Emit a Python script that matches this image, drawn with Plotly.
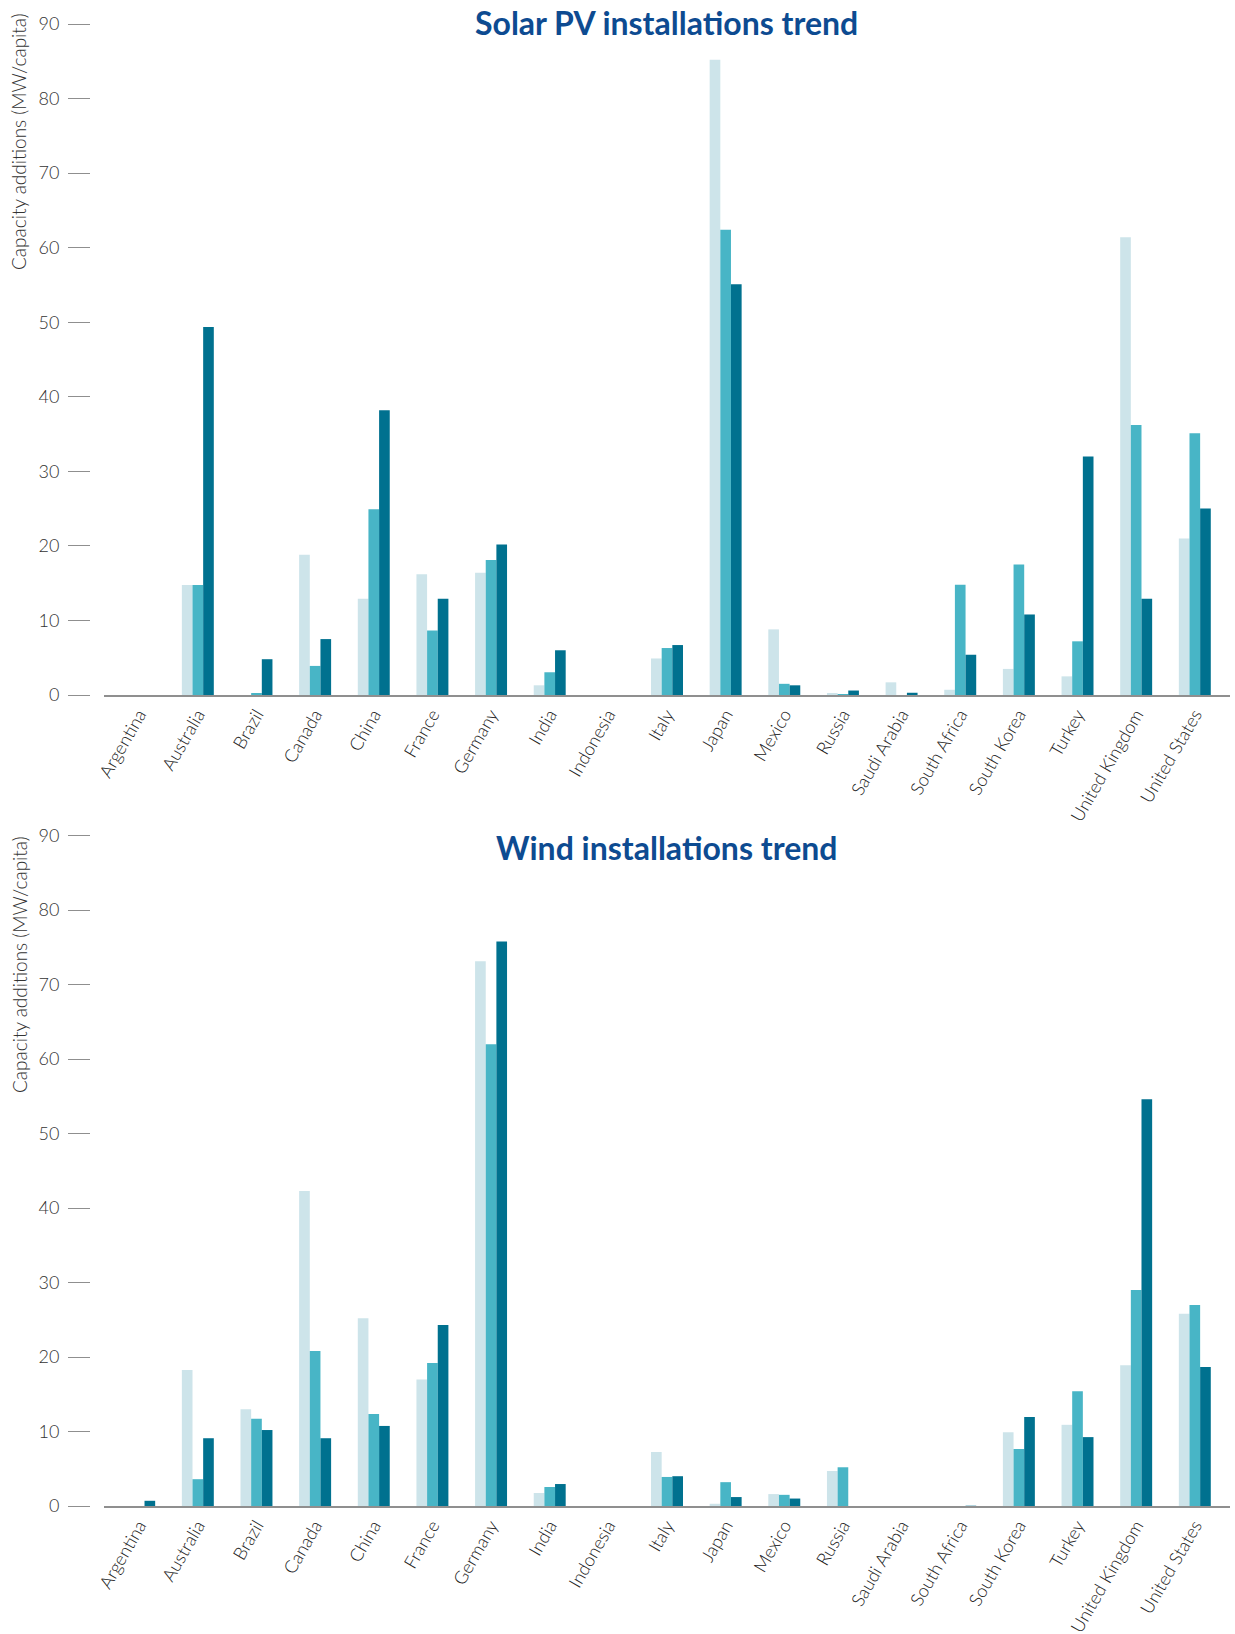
import plotly.graph_objects as go

# Countries shared by both panels
countries = [
    "Argentina", "Australia", "Brazil", "Canada", "China", "France", "Germany",
    "India", "Indonesia", "Italy", "Japan", "Mexico", "Russia", "Saudi Arabia",
    "South Africa", "South Korea", "Turkey", "United Kingdom", "United States",
]

# Solar PV capacity additions (MW/capita), three consecutive periods
solar_p1 = [0, 14.75, 0, 18.8, 12.9, 16.2, 16.4, 1.3, 0, 4.9, 85.2, 8.8, 0.2, 1.7, 0.7, 3.5, 2.5, 61.4, 21.0]
solar_p2 = [0, 14.75, 0.2, 3.9, 24.9, 8.65, 18.1, 3.05, 0, 6.3, 62.4, 1.5, 0.05, 0, 14.8, 17.5, 7.2, 36.2, 35.1]
solar_p3 = [0, 49.35, 4.8, 7.5, 38.2, 12.9, 20.2, 6.0, 0, 6.7, 55.1, 1.3, 0.6, 0.3, 5.4, 10.8, 32.0, 12.9, 25.0]

# Wind capacity additions (MW/capita), three consecutive periods
wind_p1 = [0, 18.25, 13.0, 42.3, 25.2, 17.0, 73.15, 1.75, 0, 7.25, 0.3, 1.6, 4.7, 0, 0, 9.9, 10.9, 18.9, 25.8]
wind_p2 = [0, 3.6, 11.7, 20.8, 12.35, 19.2, 62.0, 2.55, 0, 3.9, 3.2, 1.5, 5.2, 0, 0, 7.65, 15.4, 29.0, 27.0]
wind_p3 = [0.7, 9.1, 10.2, 9.1, 10.75, 24.3, 75.8, 2.95, 0, 4.0, 1.2, 1.0, 0, 0, -0.2, 11.95, 9.25, 54.6, 18.65]

period_names = ["Period 1", "Period 2", "Period 3"]
colors = ["#cde4ea", "#48b5c6", "#00718f"]

y_ticks = list(range(0, 100, 10))

W, H = 1235, 1634
FONT = "Lato"

fig = go.Figure()

panels = [
    ("x", "y", [solar_p1, solar_p2, solar_p3]),
    ("x2", "y2", [wind_p1, wind_p2, wind_p3]),
]
for xa, ya, series in panels:
    for name, vals, col in zip(period_names, series, colors):
        fig.add_trace(go.Bar(
            x=countries, y=vals, name=name, xaxis=xa, yaxis=ya,
            marker=dict(color=col, line=dict(width=0)),
            showlegend=False,
        ))

x_dom = [104 / W, 1230 / W]
top_dom = [1 - 695 / H, 1 - 24 / H]
bot_dom = [1 - 1506 / H, 1 - 835.7 / H]

xaxis_common = dict(
    domain=x_dom,
    range=[-0.6, 18.6],
    tickangle=-60,
    automargin=False,
    showline=True, linecolor="#8f8f8f", linewidth=2,
    showgrid=False, zeroline=False, ticks="",
    tickfont=dict(family=FONT, size=18, color="#222222", weight=300),
    fixedrange=True,
)
yaxis_common = dict(
    range=[0, 90],
    tickvals=y_ticks,
    anchor="free", position=90 / W,
    automargin=False,
    ticks="outside", ticklen=22, tickwidth=1.3, tickcolor="#8f8f8f",
    showline=False, showgrid=False, zeroline=False,
    ticklabelstandoff=5,
    tickfont=dict(family=FONT, size=18, color="#333333", weight=300),
    fixedrange=True,
)

fig.update_layout(
    width=W, height=H,
    margin=dict(l=0, r=0, t=0, b=0),
    paper_bgcolor="white", plot_bgcolor="white",
    barmode="group", bargap=0.455, bargroupgap=0,
    xaxis=dict(anchor="y", categoryorder="array", categoryarray=countries, **xaxis_common),
    yaxis=dict(domain=top_dom, **yaxis_common),
    xaxis2=dict(anchor="y2", categoryorder="array", categoryarray=countries, **xaxis_common),
    yaxis2=dict(domain=bot_dom, **yaxis_common),
)

title_font = dict(family=FONT, size=32, color="#0d4b91", weight=700)
axis_title_font = dict(family=FONT, size=19, color="#333333", weight=300)
fig.add_annotation(text="Solar PV installations trend", x=667 / W, y=1 - 22 / H,
                   xref="paper", yref="paper", showarrow=False,
                   xanchor="center", yanchor="middle", font=title_font)
fig.add_annotation(text="Wind installations trend", x=667 / W, y=1 - 847 / H,
                   xref="paper", yref="paper", showarrow=False,
                   xanchor="center", yanchor="middle", font=title_font)
for yc in (142, 965):
    fig.add_annotation(text="Capacity additions (MW/capita)", x=19 / W, y=1 - yc / H,
                       xref="paper", yref="paper", showarrow=False, textangle=-90,
                       xanchor="center", yanchor="middle", font=axis_title_font)

fig.write_html("out.html")
